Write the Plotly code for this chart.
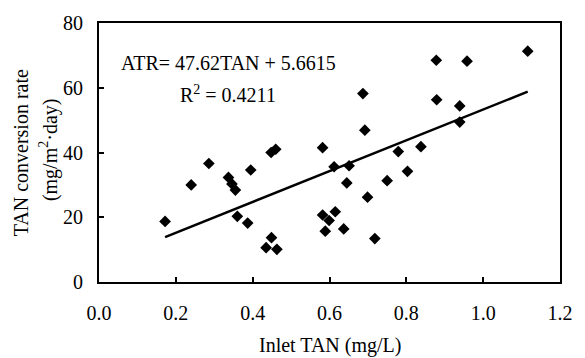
import numpy as np
import plotly.graph_objects as go

# Data
inlet_tan = [0.172, 0.240, 0.286, 0.337, 0.346, 0.355, 0.395, 0.448, 0.460,
             0.360, 0.387, 0.449, 0.435, 0.463, 0.612, 0.651, 0.779, 0.645,
             0.750, 0.803, 0.699, 0.582, 0.599, 0.615, 0.589, 0.637, 0.718,
             0.687, 0.692, 0.582, 0.838, 0.878, 0.958, 1.116, 0.879, 0.939,
             0.939]
conv_rate = [18.7, 30.0, 36.6, 32.3, 30.3, 28.4, 34.6, 40.0, 41.0,
             20.3, 18.2, 13.7, 10.6, 10.1, 35.6, 35.9, 40.3, 30.6,
             31.3, 34.2, 26.2, 20.7, 19.0, 21.7, 15.7, 16.4, 13.4,
             58.2, 46.9, 41.5, 41.8, 68.5, 68.2, 71.3, 56.3, 54.4,
             49.4]
slope = 47.62
intercept = 5.6615
x_ticks = [0.0, 0.2, 0.4, 0.6, 0.8, 1.0, 1.2]
x_tick_text = ["0.0", "0.2", "0.4", "0.6", "0.8", "1.0", "1.2"]
y_ticks = [0, 20, 40, 60, 80]

FONT = "Liberation Serif"
FS = 20

x_fit = np.array([min(inlet_tan), max(inlet_tan)])
y_fit = slope * x_fit + intercept

fig = go.Figure()
fig.add_trace(go.Scatter(
    x=x_fit, y=y_fit, mode="lines",
    line=dict(color="black", width=2.5), showlegend=False, hoverinfo="skip"))
fig.add_trace(go.Scatter(
    x=inlet_tan, y=conv_rate, mode="markers",
    marker=dict(symbol="diamond", size=9, color="black"),
    showlegend=False))

fig.update_layout(
    width=585, height=358,
    margin=dict(l=99, r=14, t=22, b=76),
    paper_bgcolor="white", plot_bgcolor="white",
    font=dict(family=FONT, size=FS, color="black"),
    xaxis=dict(range=[0, 1.2], tickvals=x_ticks, ticktext=x_tick_text,
               ticks="inside", ticklen=5, tickwidth=2, tickcolor="black",
               showline=True, linecolor="black", linewidth=2, mirror=True,
               showgrid=False, zeroline=False, ticklabelstandoff=12,
               tickfont=dict(family=FONT, size=FS)),
    yaxis=dict(range=[0, 80], tickvals=y_ticks,
               ticks="inside", ticklen=5, tickwidth=2, tickcolor="black",
               showline=True, linecolor="black", linewidth=2, mirror=True,
               showgrid=False, zeroline=False, ticklabelstandoff=10,
               tickfont=dict(family=FONT, size=FS)),
    annotations=[
        dict(x=0.336, y=67.6, xref="x", yref="y", showarrow=False,
             text="ATR= 47.62TAN + 5.6615", font=dict(family=FONT, size=FS)),
        dict(x=0.336, y=58.1, xref="x", yref="y", showarrow=False,
             text="R<sup>2</sup> = 0.4211", font=dict(family=FONT, size=FS)),
        dict(x=0.5, y=-0.245, xref="paper", yref="paper", showarrow=False,
             text="Inlet TAN (mg/L)", xanchor="center", yanchor="middle",
             font=dict(family=FONT, size=FS)),
        dict(x=-80 / 472, y=0.5, xref="paper", yref="paper", showarrow=False,
             text="TAN conversion rate", textangle=-90,
             xanchor="center", yanchor="middle",
             font=dict(family=FONT, size=FS)),
        dict(x=-51 / 472, y=0.51, xref="paper", yref="paper", showarrow=False,
             text="(mg/m<sup>2</sup>·day)", textangle=-90,
             xanchor="center", yanchor="middle",
             font=dict(family=FONT, size=FS)),
    ],
)

fig.write_html("out.html")
